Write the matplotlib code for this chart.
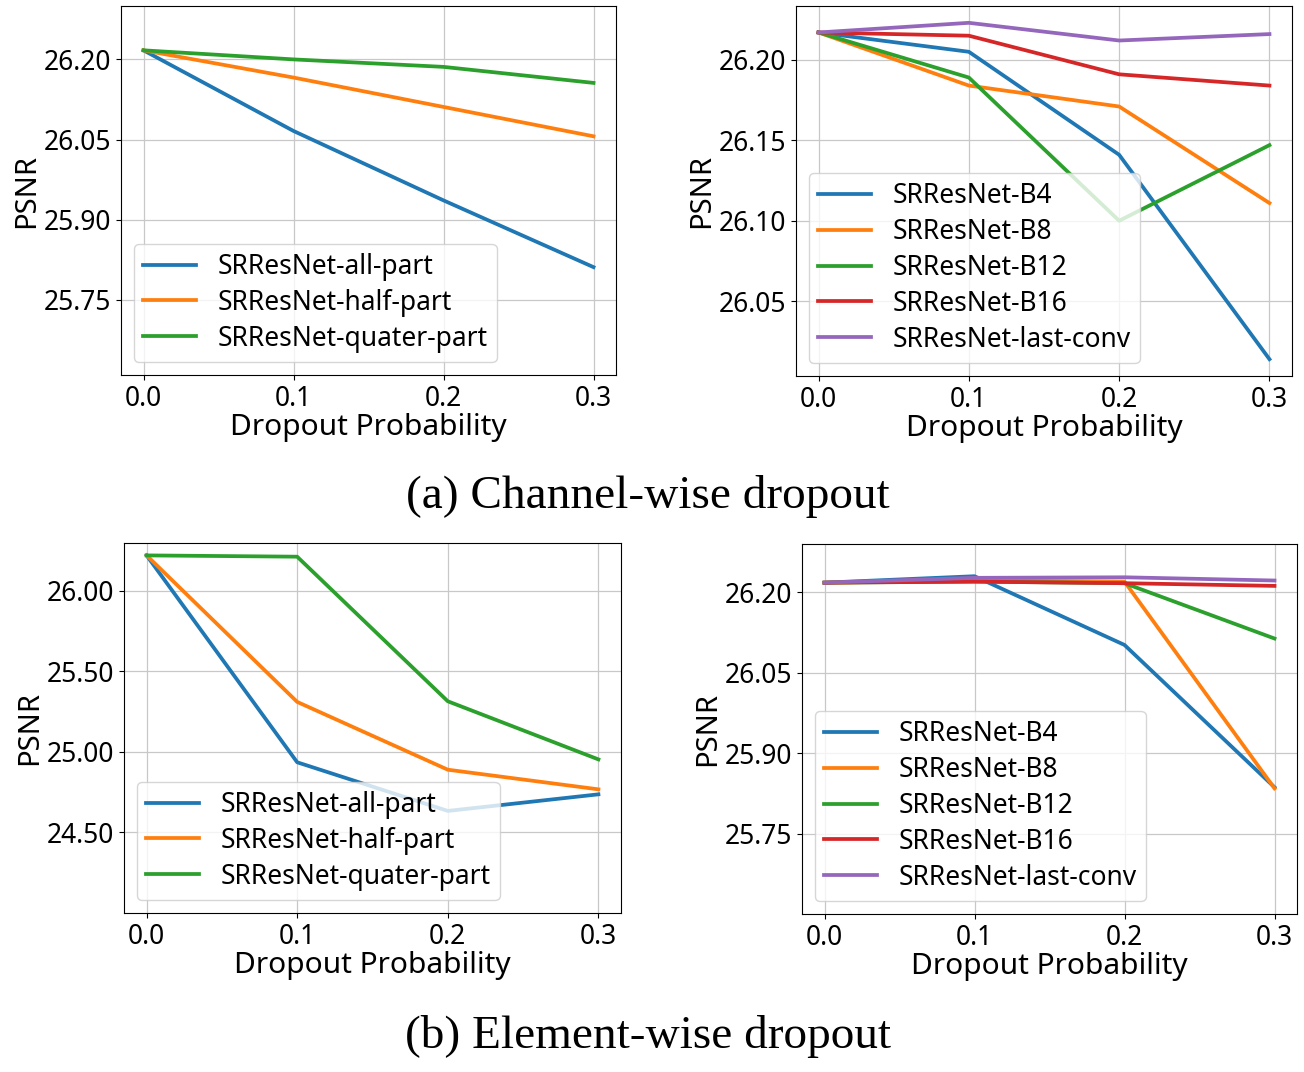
import matplotlib
matplotlib.use('Agg')
import matplotlib.pyplot as plt

plt.rcParams['font.family'] = ['Noto Sans', 'DejaVu Sans']

# ___data___
drop_p = [0.0, 0.1, 0.2, 0.3]

# (a) channel-wise, left panel
ch_part_names = ['SRResNet-all-part', 'SRResNet-half-part', 'SRResNet-quater-part']
ch_all_part = [26.217, 26.066, 25.936, 25.811]
ch_half_part = [26.217, 26.166, 26.111, 26.056]
ch_quater_part = [26.217, 26.200, 26.186, 26.156]

# (a) channel-wise, right panel
block_names = ['SRResNet-B4', 'SRResNet-B8', 'SRResNet-B12', 'SRResNet-B16', 'SRResNet-last-conv']
ch_b4 = [26.217, 26.205, 26.141, 26.014]
ch_b8 = [26.217, 26.184, 26.171, 26.111]
ch_b12 = [26.217, 26.189, 26.100, 26.147]
ch_b16 = [26.217, 26.215, 26.191, 26.184]
ch_last = [26.217, 26.223, 26.212, 26.216]

# (b) element-wise, left panel
el_all_part = [26.221, 24.936, 24.634, 24.737]
el_half_part = [26.221, 25.311, 24.890, 24.768]
el_quater_part = [26.221, 26.213, 25.315, 24.954]

# (b) element-wise, right panel
el_b4 = [26.218, 26.230, 26.102, 25.837]
el_b8 = [26.218, 26.222, 26.220, 25.835]
el_b12 = [26.218, 26.220, 26.217, 26.114]
el_b16 = [26.218, 26.220, 26.217, 26.212]
el_last = [26.218, 26.227, 26.228, 26.222]

xticks = [0.0, 0.1, 0.2, 0.3]
yticks_a_left = [25.75, 25.90, 26.05, 26.20]
yticks_a_right = [26.05, 26.10, 26.15, 26.20]
yticks_b_left = [24.50, 25.00, 25.50, 26.00]
yticks_b_right = [25.75, 25.90, 26.05, 26.20]

W, H = 1304, 1072


def px_axes(fig, x0, y0, x1, y1):
    # pixel box (top-left origin) -> figure axes
    return fig.add_axes([x0 / W, (H - y1) / H, (x1 - x0) / W, (y1 - y0) / H])


def draw(ax, series, names, yticks, ylim=None):
    for ys, name in zip(series, names):
        ax.plot(drop_p, ys, lw=2.7, label=name)
    ax.set_xticks(xticks)
    ax.set_xticklabels(['0.0', '0.1', '0.2', '0.3'])
    ax.set_yticks(yticks)
    ax.set_yticklabels(['%.2f' % v for v in yticks])
    if ylim is not None:
        ax.set_ylim(*ylim)
    ax.tick_params(labelsize=19)
    ax.grid(True, color='#c8c8c8', lw=0.9)
    ax.set_xlabel('Dropout Probability', fontsize=21.5, labelpad=0)
    ax.set_ylabel('PSNR', fontsize=21, labelpad=2)
    ax.legend(loc='lower left', fontsize=19, handlelength=2.0,
              labelspacing=0.3, borderpad=0.35)


fig = plt.figure(figsize=(13.04, 10.72), dpi=100)

ax1 = px_axes(fig, 121, 6, 616, 375)
draw(ax1, [ch_all_part, ch_half_part, ch_quater_part], ch_part_names,
     yticks_a_left, (25.609, 26.30))

ax2 = px_axes(fig, 796, 6, 1292, 376)
draw(ax2, [ch_b4, ch_b8, ch_b12, ch_b16, ch_last], block_names, yticks_a_right)

ax3 = px_axes(fig, 124, 543, 621, 913)
draw(ax3, [el_all_part, el_half_part, el_quater_part], ch_part_names,
     yticks_b_left, (24.0, 26.298))

ax4 = px_axes(fig, 802, 544, 1297, 914)
draw(ax4, [el_b4, el_b8, el_b12, el_b16, el_last], block_names,
     yticks_b_right, (25.601, 26.29))

fig.text(648 / W, 1 - 497 / H, '(a) Channel-wise dropout', family='Liberation Serif',
         fontsize=34, ha='center', va='center')
fig.text(648 / W, 1 - 1037 / H, '(b) Element-wise dropout', family='Liberation Serif',
         fontsize=34, ha='center', va='center')

plt.savefig('out.png', dpi=100)
